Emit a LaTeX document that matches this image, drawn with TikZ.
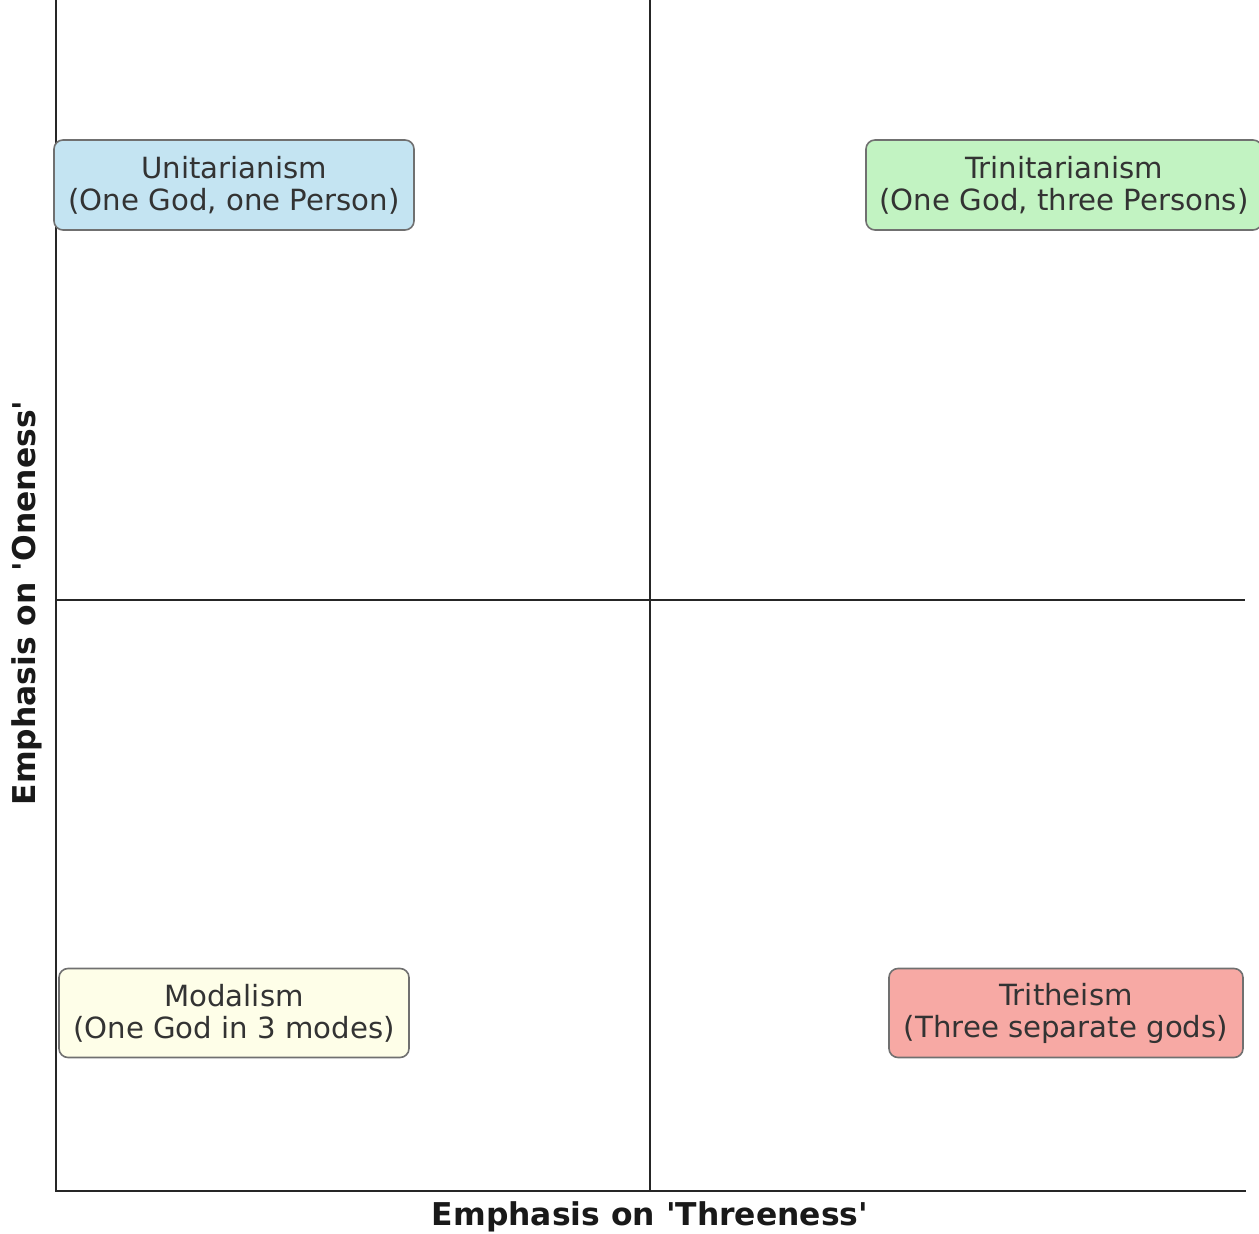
\documentclass[tikz,border=0pt]{standalone}
\usepackage{fontspec}
\setmainfont{DejaVu Sans}
\newfontfamily\djv{DejaVu Sans}
\definecolor{txt}{HTML}{333333}
\definecolor{edgegray}{HTML}{707070}
\definecolor{cblue}{HTML}{C4E4F2}
\definecolor{cgreen}{HTML}{C2F3C2}
\definecolor{cyellow}{HTML}{FEFEE8}
\definecolor{cred}{HTML}{F7A9A4}
\begin{document}
\begin{tikzpicture}[x=0.5pt,y=-0.5pt,
  quad/.style={draw=edgegray, line width=0.8pt, rounded corners=4.5pt, align=center,
    text=txt, font=\djv\fontsize{14.6}{16}\selectfont, minimum height=45pt, inner sep=0pt},
  axisline/.style={draw=black!85, line width=1pt},
  axlabel/.style={font=\djv\bfseries\fontsize{15.7}{18}\selectfont, text=black!90}]
\useasboundingbox (0,0) rectangle (1259,1234);
\clip (0,0) rectangle (1259,1234);
% axes coordinates
\coordinate (tl) at (56,0);
\coordinate (bl) at (56,1191);
\coordinate (br) at (1246,1191);
\coordinate (mt) at (650,0);
\coordinate (mb) at (650,1191);
\coordinate (ml) at (56,600);
\coordinate (mr) at (1245,600);
\draw[axisline] (tl) -- (bl) -- (br);
\draw[axisline, line width=1.3pt] (bl) -- (br);
\draw[axisline] (mt) -- (mb);
\draw[axisline] (ml) -- (mr);
% boxes
\node[quad, fill=cblue, minimum width=180pt] (unit) at (234,185) {Unitarianism\\(One God, one Person)};
\node[quad, fill=cgreen, minimum width=198pt] (trin) at (1064,185) {Trinitarianism\\(One God, three Persons)};
\node[quad, fill=cyellow, minimum width=175pt, minimum height=44.5pt] (mod) at (234,1013) {Modalism\\(One God in 3 modes)};
\node[quad, fill=cred, minimum width=177pt, minimum height=44.5pt] (trit) at (1066,1013) {Tritheism\\(Three separate gods)};
% axis labels
\node[axlabel] (xlab) at (650,1217) {Emphasis on 'Threeness'};
\node[axlabel, rotate=90] (ylab) at (27,603) {Emphasis on 'Oneness'};
\end{tikzpicture}
\end{document}
